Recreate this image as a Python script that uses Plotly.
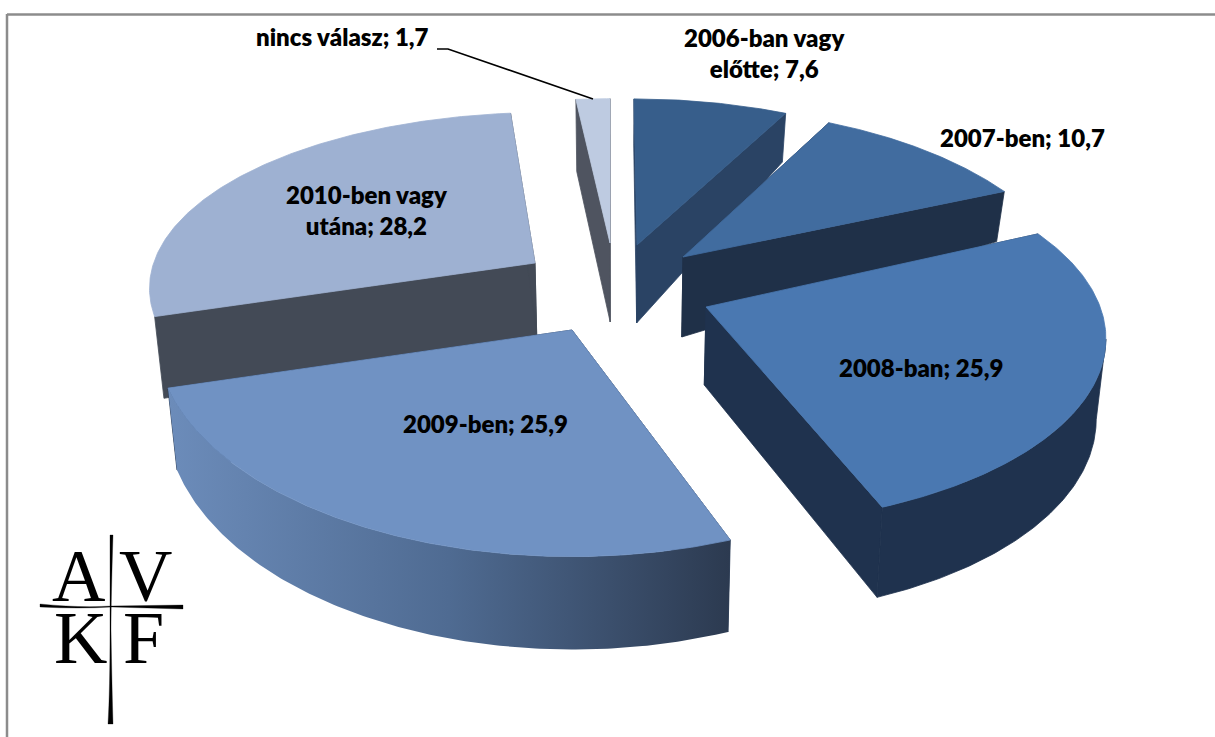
import numpy as np
import plotly.graph_objects as go

# ---- data -------------------------------------------------------------
categories = ["2006-ban vagy előtte", "2007-ben", "2008-ban", "2009-ben", "2010-ben vagy utána", "nincs válasz"]
values = [7.6, 10.7, 25.9, 25.9, 28.2, 1.7]
label_texts = ["2006-ban vagy<br>előtte; 7,6", "2007-ben; 10,7", "2008-ban; 25,9",
               "2009-ben; 25,9", "2010-ben vagy<br>utána; 28,2", "nincs válasz; 1,7"]

# ---- projection of each exploded wedge --------------------------------
# origin x/y, tip x/y, radius x/y, perspective, depth at centre, depth slope
frames = [
    (634, 245, 637, 245, 374, 168, 0.15, 78, 33),
    (683, 263, 683, 257, 388, 193, 0.25, 80, 73),
    (714, 301.5, 706, 307, 384, 179, 0.20, 78, 13),
    (572, 320, 572, 330, 415, 220, 0.07, 77, 16),
    (547, 262, 535, 263, 393, 172, 0.15, 72, 32),
    (610, 243, 610, 243, 368, 166, 0.15, 79, 7),
]
top_colors = ["#375E8B", "#416C9F", "#4A78B1", "#7092C3", "#9EB1D2", "#BECBE1"]
wall_colors = ["#2A4364", "#1F3048", "#1F324E", "#1F324E", "#434A56", "#4F5460"]
draw_order = [0, 1, 5, 4, 2, 3]
outer_visible = {2, 3}
label_pos = [(764, 53), (1022, 137), (921, 367), (485, 423), (367, 210), (342, 36)]
FOCUS_X, SHRINK = 620, 0.02
FONT = "Lato"

total = sum(values)
edges = np.cumsum([0] + values) / total * 2 * np.pi


def wedge(i):
    ox, oy, ax, ay, rx, ry, k, d0, d1 = frames[i]
    t = np.linspace(edges[i], edges[i + 1], 160)
    ux, uy = np.sin(t), np.cos(t)
    w = 1 + k * uy
    sx, sy = ox + rx * ux / w, oy - ry * uy / w
    depth = d0 - d1 * uy
    bx = sx - SHRINK * (sx - FOCUS_X)
    by = sy + depth
    tipb = (ax - SHRINK * (ax - FOCUS_X), ay + d0)
    front = uy <= -k
    return (ax, ay), tipb, sx, sy, bx, by, front


def add_poly(fig, xs, ys, color=None, gradient=None, edge=None):
    kw = dict(fillgradient=gradient) if gradient else dict(fillcolor=color)
    line = dict(width=0.8, color=edge) if edge else dict(width=0)
    fig.add_trace(go.Scatter(x=xs, y=ys, mode="lines", fill="toself", line=line,
                             hoverinfo="skip", showlegend=False, **kw))


fig = go.Figure()
for i in draw_order:
    tip, tipb, sx, sy, bx, by, front = wedge(i)
    c = wall_colors[i]
    # side walls
    add_poly(fig, [tip[0], sx[0], bx[0], tipb[0], tip[0]], [tip[1], sy[0], by[0], tipb[1], tip[1]], c, edge=c)
    add_poly(fig, [tip[0], sx[-1], bx[-1], tipb[0], tip[0]], [tip[1], sy[-1], by[-1], tipb[1], tip[1]], c, edge=c)
    # outer wall, swept over the part of the rim that faces the viewer
    if i in outer_visible:
        tx, ty, lx, ly = sx[front], sy[front], bx[front], by[front]
        ox_ = np.concatenate([tx, lx[::-1], tx[:1]])
        oy_ = np.concatenate([ty, ly[::-1], ty[:1]])
        if i == 3:
            add_poly(fig, ox_, oy_, gradient=dict(type="horizontal",
                     colorscale=[[0, "#6C8CBA"], [0.5, "#4F6B92"], [1, "#2C3A50"]]))
        else:
            add_poly(fig, ox_, oy_, c, edge=c)
    # top face
    add_poly(fig, np.concatenate([[tip[0]], sx, [tip[0]]]), np.concatenate([[tip[1]], sy, [tip[1]]]),
             top_colors[i], edge=top_colors[i])

annotations = [
    dict(x=x, y=y, text=t, showarrow=False, xanchor="center", yanchor="middle",
         font=dict(family=FONT, size=24, weight=800, color="#000000"))
    for t, (x, y) in zip(label_texts, label_pos)
]
for letter, x, y in [("A", 78, 576), ("V", 145, 576), ("K", 80, 638), ("F", 143, 638)]:
    annotations.append(dict(x=x, y=y, text=letter, showarrow=False, xanchor="center", yanchor="middle",
                            font=dict(family="Liberation Serif", size=74, color="#000000")))

shapes = [
    dict(type="line", x0=7, y0=14.5, x1=1215, y1=14.5, line=dict(color="#8C8C8C", width=2.5)),
    dict(type="line", x0=7, y0=14, x1=7, y1=737, line=dict(color="#8C8C8C", width=2.5)),
    dict(type="path", path="M437,49 L448,49 L593,99", line=dict(color="#000000", width=1.6)),
    dict(type="path", path="M40,604 Q80,608 112,606 L183,605 L183,609 L112,607 Q80,609 40,607 Z",
         fillcolor="#000000", line=dict(color="#000000", width=0.3)),
    dict(type="path", path="M110,535 L113,535 Q111,600 111,630 Q112,690 113,724 L108,724 Q110,690 110,630 Q110,580 110,535 Z",
         fillcolor="#000000", line=dict(color="#000000", width=0.3)),
]

fig.update_layout(
    width=1215, height=737, margin=dict(l=0, r=0, t=0, b=0),
    paper_bgcolor="#FFFFFF", plot_bgcolor="#FFFFFF", showlegend=False,
    xaxis=dict(range=[0, 1215], visible=False, fixedrange=True),
    yaxis=dict(range=[737, 0], visible=False, fixedrange=True),
    annotations=annotations, shapes=shapes,
)
fig.write_html("out.html", config=dict(displayModeBar=False),
               post_script="document.body.style.margin='0';document.body.style.overflow='hidden';")
